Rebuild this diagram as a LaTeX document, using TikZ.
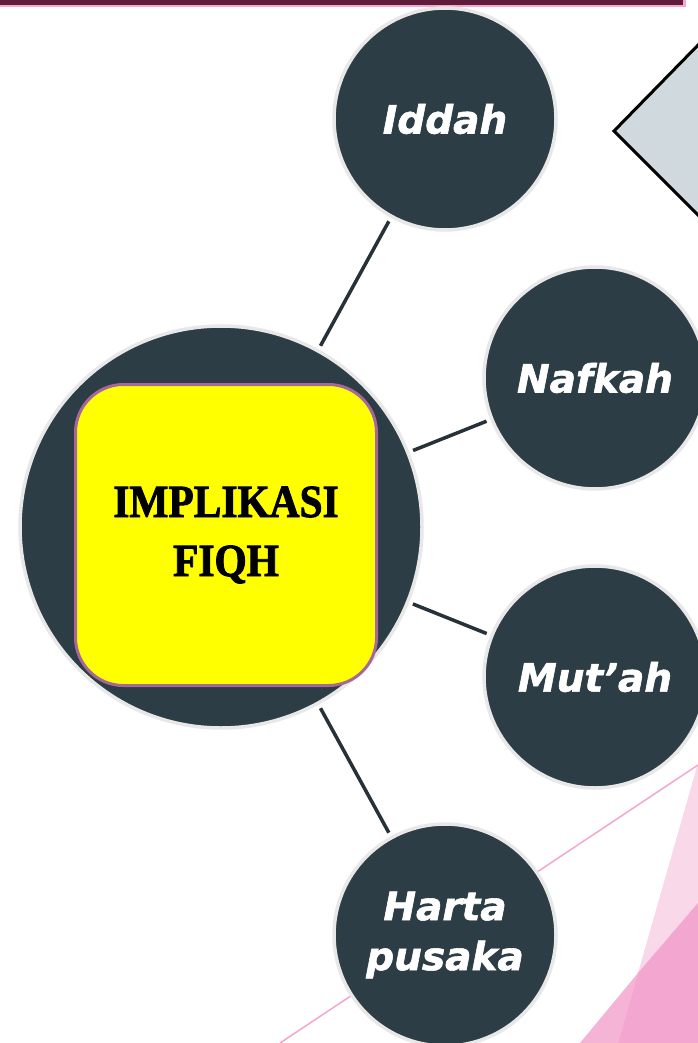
\documentclass[tikz,border=0pt]{standalone}
\usepackage{fontspec}
\newfontfamily\circfont[FakeBold=1.5]{DejaVu Sans}
\newfontfamily\fiqhfont[FakeBold=2]{Liberation Serif}
\definecolor{slate}{RGB}{45,61,69}
\definecolor{ringgray}{RGB}{232,232,232}
\definecolor{linkcol}{RGB}{38,49,56}
\definecolor{boxpurple}{RGB}{166,104,152}
\definecolor{maroon}{RGB}{94,27,58}
\definecolor{pinkline}{RGB}{244,166,208}
\definecolor{pinklight}{RGB}{249,216,234}
\definecolor{pinkmid}{RGB}{245,179,214}
\definecolor{pinkdark}{RGB}{243,167,208}
\definecolor{diamondfill}{RGB}{207,217,222}
\definecolor{boxyellow}{RGB}{255,255,0}
\tikzset{
  bubble/.style={circle, fill=slate, draw=ringgray, line width=3.5pt,
    minimum size=222pt, inner sep=0pt, text=white, align=center,
    font=\circfont\bfseries\itshape\fontsize{39}{50}\selectfont},
  link/.style={draw=linkcol, line width=3.5pt, shorten >=4pt, shorten <=4pt},
  titlebox/.style={rectangle, rounded corners=48pt, fill=boxyellow, draw=boxpurple,
    line width=3pt, minimum width=301pt, minimum height=301pt, inner sep=0pt,
    align=center, text=black,
    font=\fiqhfont\bfseries\fontsize{46}{59}\selectfont}
}
\begin{document}
\begin{tikzpicture}[x=1pt,y=-1pt]
\useasboundingbox (0,0) rectangle (698,1043);
\clip (0,0) rectangle (698,1043);
\fill[white] (0,0) rectangle (698,1043);
% pink background shapes
\fill[pinklight] (698,763) -- (618,1043) -- (698,1043) -- cycle;
\fill[pinkmid] (638,973) -- (580,1043) -- (618,1043) -- cycle;
\fill[pinkdark] (698,903) -- (638,973) -- (618,1043) -- (698,1043) -- cycle;
\coordinate (pl1) at (280,1043);
\coordinate (pl2) at (698,765);
\draw[pinkline, line width=1.5pt] (pl1) -- (pl2);
% top bar
\fill[pinkline] (0,0) rectangle (686,7);
\fill[maroon] (0,0) rectangle (683,5);
% diamond corner
\coordinate (d1) at (702,41);
\coordinate (d2) at (614,131);
\coordinate (d3) at (702,219);
\draw[fill=diamondfill, line width=3pt, line join=miter] (d1) -- (d2) -- (d3);
% nodes
\node[bubble, minimum size=402pt] (main) at (221,527) {};
\node[bubble] (iddah) at (445,119) {Iddah};
\node[bubble] (nafkah) at (595,378) {Nafkah};
\node[bubble] (mutah) at (595,677) {Mut’ah};
\node[bubble] (harta) at (445,935) {Harta\\pusaka};
\node[titlebox] (fiqh) at (226,535) {\scalebox{0.9}[1]{IMPLIKASI}\\\scalebox{0.9}[1]{FIQH}};
% connectors
\draw[link] (main) -- (iddah);
\draw[link] (main) -- (nafkah);
\draw[link] (main) -- (mutah);
\draw[link] (main) -- (harta);
\end{tikzpicture}
\end{document}
